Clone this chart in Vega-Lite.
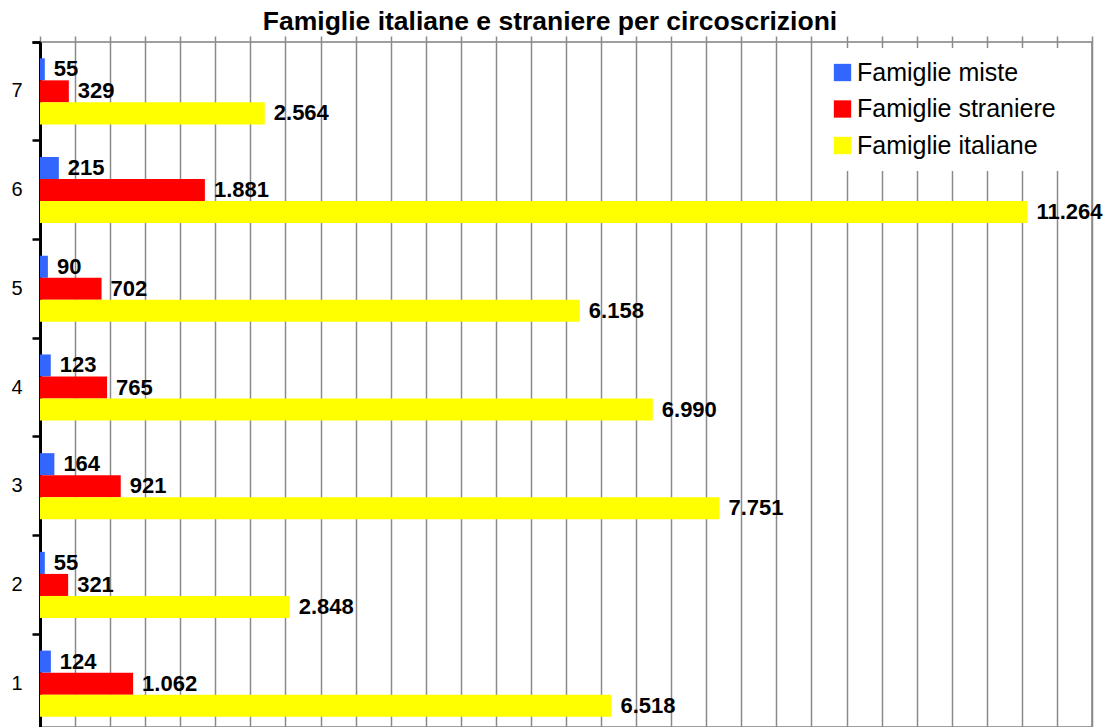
{
  "$schema": "https://vega.github.io/schema/vega-lite/v6.json",
  "autosize": "none",
  "width": 1052,
  "height": 685,
  "padding": {"left": 40, "top": 42, "right": 14, "bottom": 0},
  "background": "white",
  "title": {
    "text": "Famiglie italiane e straniere per circoscrizioni",
    "font": "Liberation Sans",
    "fontSize": 26.5,
    "fontWeight": "bold",
    "color": "black",
    "anchor": "middle",
    "offset": 7,
    "dy": 10,
    "dx": -16
  },
  "data": {
    "values": [
      {"circ": 7, "serie": "Famiglie miste", "valore": 55},
      {"circ": 7, "serie": "Famiglie straniere", "valore": 329},
      {"circ": 7, "serie": "Famiglie italiane", "valore": 2564},
      {"circ": 6, "serie": "Famiglie miste", "valore": 215},
      {"circ": 6, "serie": "Famiglie straniere", "valore": 1881},
      {"circ": 6, "serie": "Famiglie italiane", "valore": 11264},
      {"circ": 5, "serie": "Famiglie miste", "valore": 90},
      {"circ": 5, "serie": "Famiglie straniere", "valore": 702},
      {"circ": 5, "serie": "Famiglie italiane", "valore": 6158},
      {"circ": 4, "serie": "Famiglie miste", "valore": 123},
      {"circ": 4, "serie": "Famiglie straniere", "valore": 765},
      {"circ": 4, "serie": "Famiglie italiane", "valore": 6990},
      {"circ": 3, "serie": "Famiglie miste", "valore": 164},
      {"circ": 3, "serie": "Famiglie straniere", "valore": 921},
      {"circ": 3, "serie": "Famiglie italiane", "valore": 7751},
      {"circ": 2, "serie": "Famiglie miste", "valore": 55},
      {"circ": 2, "serie": "Famiglie straniere", "valore": 321},
      {"circ": 2, "serie": "Famiglie italiane", "valore": 2848},
      {"circ": 1, "serie": "Famiglie miste", "valore": 124},
      {"circ": 1, "serie": "Famiglie straniere", "valore": 1062},
      {"circ": 1, "serie": "Famiglie italiane", "valore": 6518}
    ]
  },
  "encoding": {
    "y": {
      "field": "circ",
      "type": "ordinal",
      "sort": "descending",
      "scale": {"paddingInner": 0, "paddingOuter": 0, "range": [0, 691]},
      "axis": {
        "title": null,
        "bandPosition": 0,
        "tickExtra": true,
        "domainColor": "black",
        "domainWidth": 3,
        "tickColor": "black",
        "tickWidth": 2.5,
        "tickSize": 8,
        "labelFont": "Liberation Sans",
        "labelFontSize": 20,
        "labelColor": "black",
        "labelPadding": 10,
        "grid": false
      }
    },
    "yOffset": {
      "field": "serie",
      "sort": ["Famiglie miste", "Famiglie straniere", "Famiglie italiane"],
      "scale": {"paddingInner": 0, "paddingOuter": 0.74}
    },
    "x": {
      "field": "valore",
      "type": "quantitative",
      "scale": {"domain": [0, 12000], "nice": false},
      "axis": {
        "title": null,
        "labels": false,
        "ticks": false,
        "domain": false,
        "grid": true,
        "gridColor": "#8a8a8a",
        "gridWidth": 1.5,
        "values": [0, 400, 800, 1200, 1600, 2000, 2400, 2800, 3200, 3600, 4000, 4400, 4800, 5200, 5600, 6000, 6400, 6800, 7200, 7600, 8000, 8400, 8800, 9200, 9600, 10000, 10400, 10800, 11200, 11600, 12000]
      }
    }
  },
  "layer": [
    {
      "mark": {"type": "bar"},
      "encoding": {
        "color": {
          "field": "serie",
          "type": "nominal",
          "scale": {
            "domain": ["Famiglie miste", "Famiglie straniere", "Famiglie italiane"],
            "range": ["#3366ff", "#ff0000", "#ffff00"]
          },
          "legend": {
            "title": null,
            "orient": "none",
            "legendX": 778,
            "legendY": 6,
            "symbolType": "square",
            "symbolSize": 300,
            "symbolStrokeWidth": 0,
            "labelFont": "Liberation Sans",
            "labelFontSize": 25,
            "labelColor": "black",
            "labelOffset": 2,
            "labelLimit": 400,
            "rowPadding": 10.5,
            "fillColor": "white",
            "padding": 12
          }
        }
      }
    },
    {
      "mark": {
        "type": "text",
        "align": "left",
        "baseline": "middle",
        "dx": 9,
        "font": "Liberation Sans",
        "fontSize": 22,
        "fontWeight": "bold",
        "color": "black"
      },
      "encoding": {
        "text": {"field": "valore", "type": "quantitative", "format": ",d"}
      }
    }
  ],
  "config": {
    "locale": {
      "number": {"decimal": ",", "thousands": ".", "grouping": [3], "currency": ["", " €"]}
    },
    "view": {"stroke": "#808080", "strokeWidth": 1.5}
  }
}
